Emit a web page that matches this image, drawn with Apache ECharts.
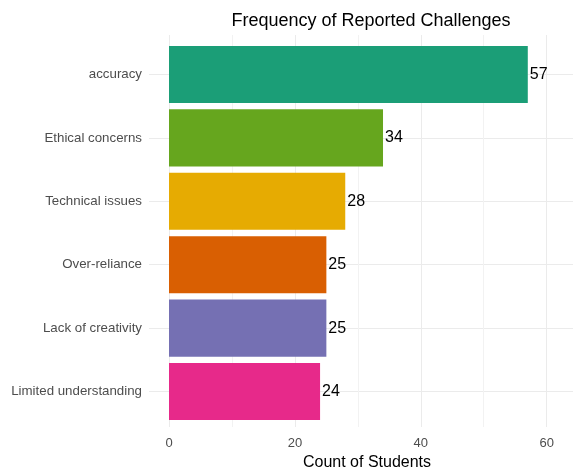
<!DOCTYPE html>
<html>
<head>
<meta charset="utf-8">
<script src="https://cdn.jsdelivr.net/npm/echarts@6/dist/echarts.min.js"></script>
<style>html,body{margin:0;padding:0;background:#fff;}#main{width:573px;height:469px;}</style>
</head>
<body>
<div id="main"></div>
<script>
const titleText = 'Frequency of Reported Challenges';
const xTitle = 'Count of Students';
const categories = ['accuracy', 'Ethical concerns', 'Technical issues', 'Over-reliance', 'Lack of creativity', 'Limited understanding'];
const counts = [57, 34, 28, 25, 25, 24];
const barColors = ['#1B9E77', '#66A61E', '#E6AB02', '#D95F02', '#7570B3', '#E7298A'];
const xMin = 0, xMax = 64.5, xInterval = 20;

const FONT = 'Liberation Sans, Arial, sans-serif';
const chart = echarts.init(document.getElementById('main'));
chart.setOption({
  animation: false,
  backgroundColor: '#ffffff',
  title: {
    text: titleText, left: 366, top: 7, textAlign: 'center',
    textStyle: { fontFamily: FONT, fontSize: 18, fontWeight: 'normal', color: '#000' }
  },
  grid: [
    { left: 169, right: -2, top: 35, bottom: 42, containLabel: false, outerBoundsMode: 'none' },
    { left: 169, right: -2, top: 42.8, bottom: 45.8, containLabel: false, outerBoundsMode: 'none' }
  ],
  xAxis: [
    {
      gridIndex: 0, type: 'value', min: xMin, max: xMax, interval: xInterval,
      axisLine: { show: false }, axisTick: { show: false },
      axisLabel: { color: '#4d4d4d', fontSize: 13, fontFamily: FONT, margin: 10, showMaxLabel: false },
      splitLine: { show: true, lineStyle: { color: '#ebebeb', width: 1 } },
      minorTick: { show: false, splitNumber: 2 },
      minorSplitLine: { show: true, lineStyle: { color: '#f2f2f2', width: 1 } },
      name: xTitle, nameLocation: 'middle', nameGap: 26,
      nameTextStyle: { color: '#000', fontSize: 16, fontFamily: FONT, padding: [0, 10, 0, 0] }
    },
    {
      gridIndex: 1, type: 'value', min: xMin, max: xMax, interval: xInterval, show: false
    }
  ],
  yAxis: [
    { gridIndex: 0, type: 'category', data: categories, inverse: true, show: false },
    {
      gridIndex: 1, type: 'category', data: categories, inverse: true,
      axisLine: { show: false },
      axisTick: { show: true, alignWithLabel: true, length: 20, lineStyle: { color: '#ebebeb', width: 1 } },
      axisLabel: { color: '#4d4d4d', fontSize: 13.3, fontFamily: FONT, margin: 27, padding: [3, 0, 0, 0] },
      splitLine: { show: true, alignWithLabel: true, lineStyle: { color: '#ebebeb', width: 1 } }
    }
  ],
  series: [{
    type: 'bar', xAxisIndex: 1, yAxisIndex: 1,
    barCategoryGap: '10%',
    data: counts.map((v, i) => ({ value: v, itemStyle: { color: barColors[i] } })),
    label: { show: true, position: 'right', distance: 2, color: '#000', fontSize: 16, fontFamily: FONT, padding: [3, 0, 0, 0] }
  }]
});
</script>
</body>
</html>
